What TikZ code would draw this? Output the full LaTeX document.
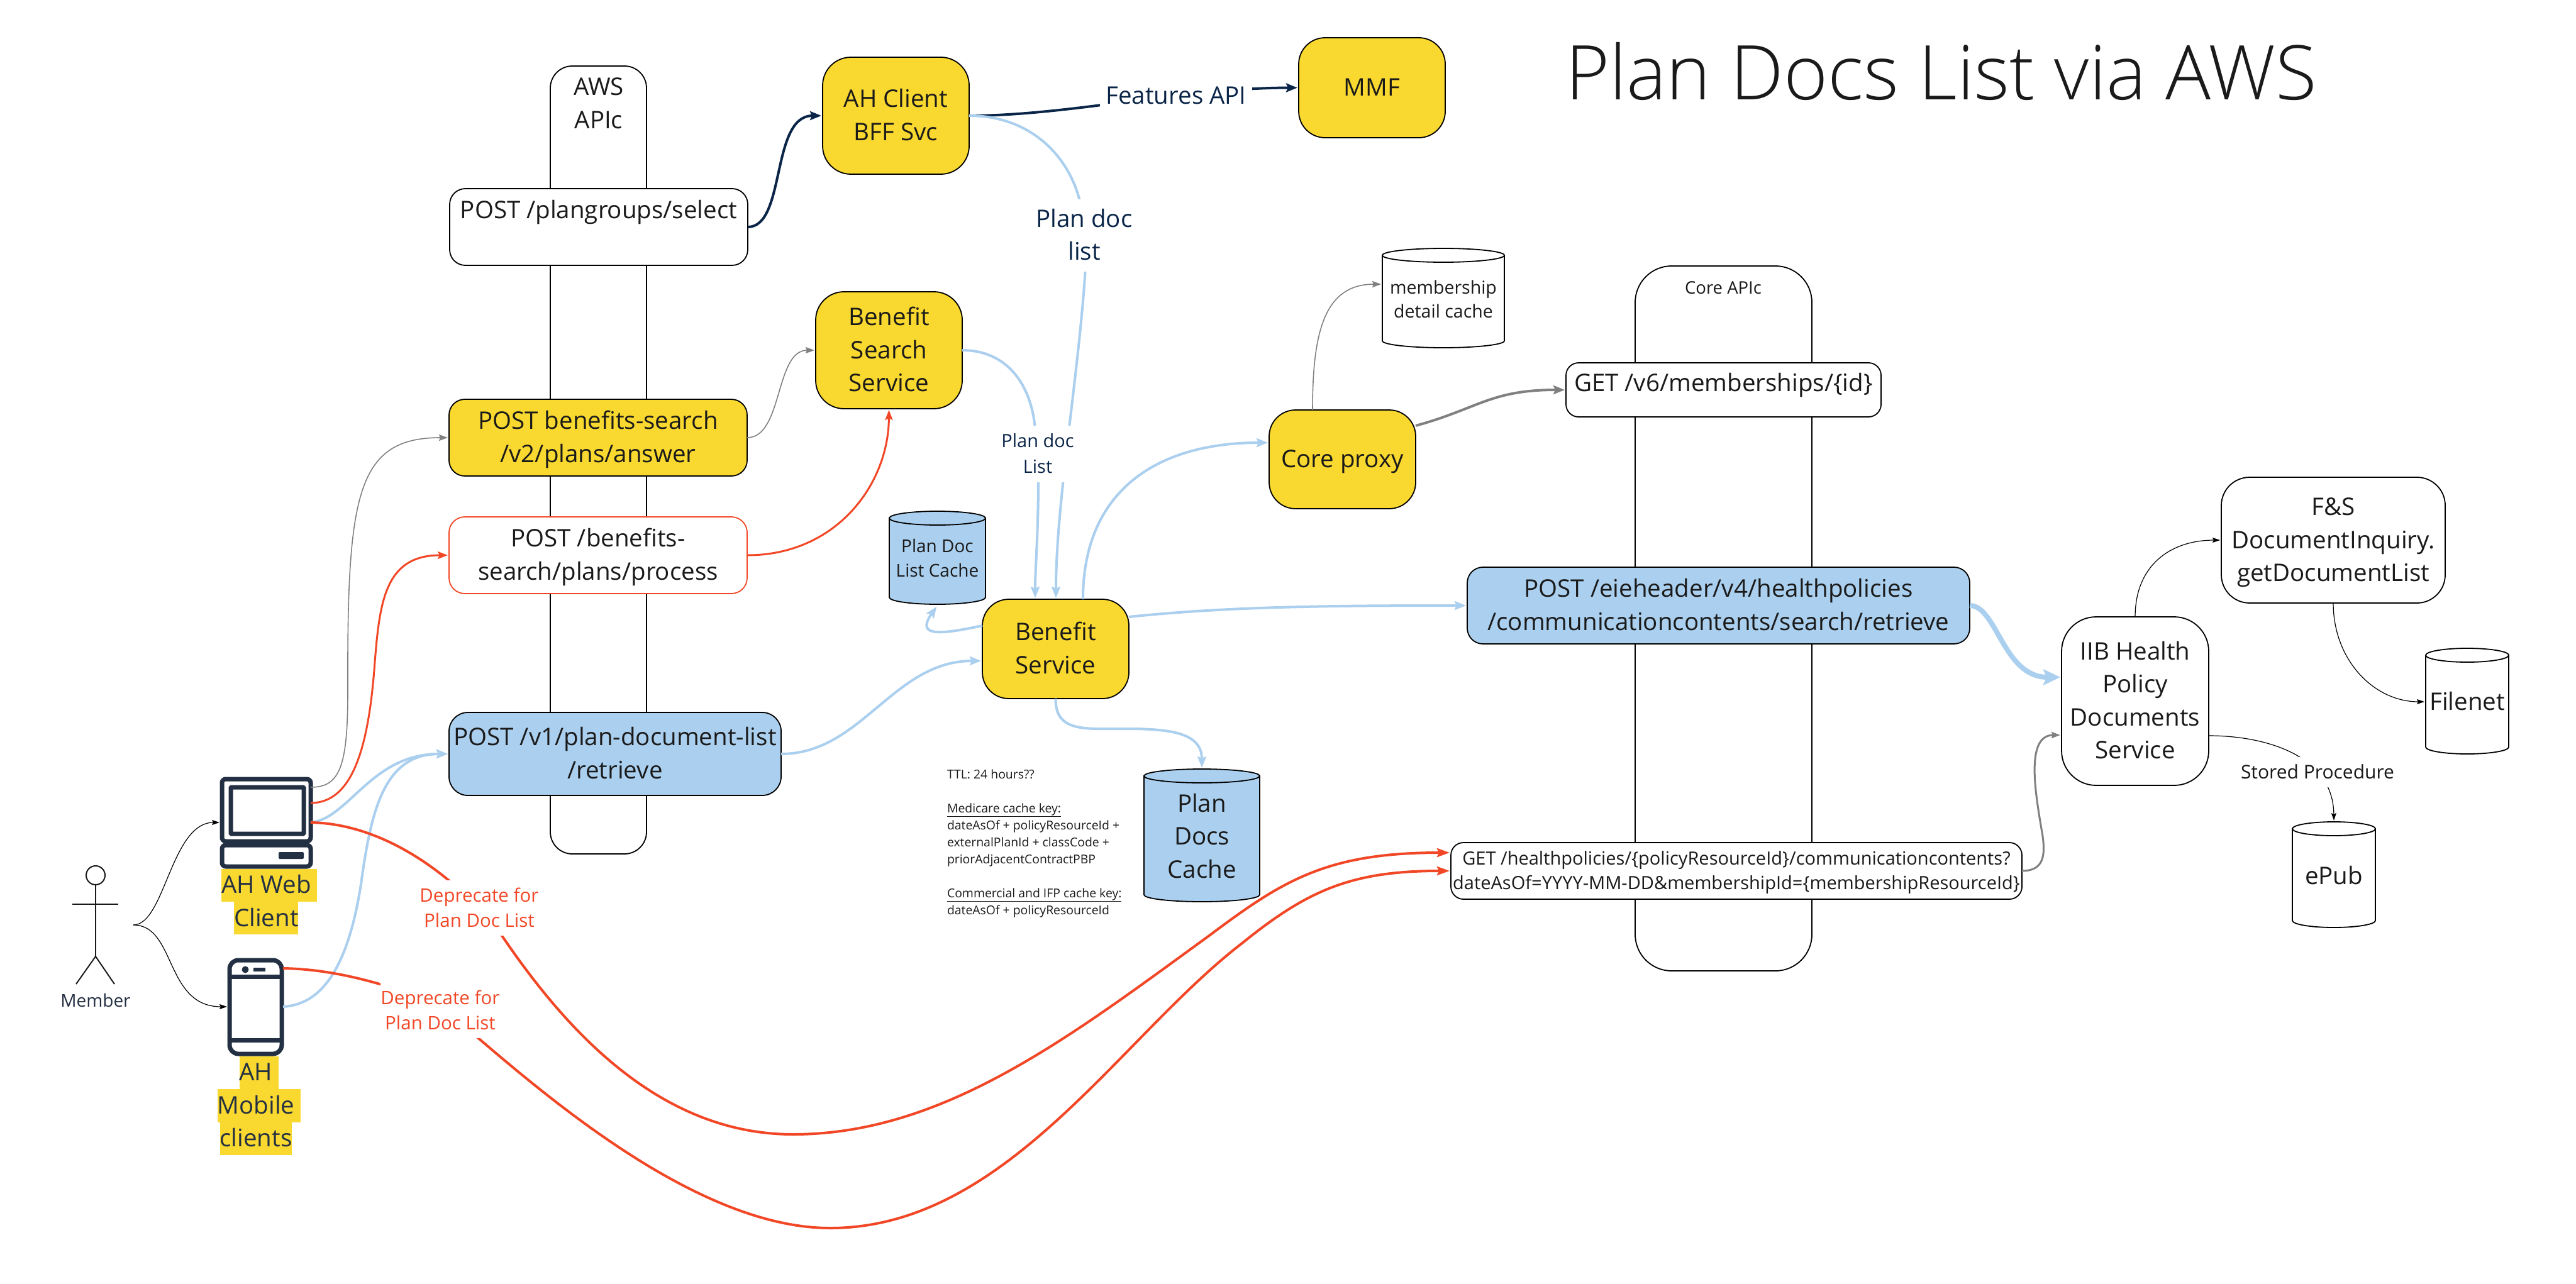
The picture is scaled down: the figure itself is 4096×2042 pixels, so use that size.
\documentclass[tikz,border=0pt]{standalone}
\usepackage{fontspec}
\setmainfont{Open Sans}
\newfontfamily\titlefont{Open Sans Light}
\usetikzlibrary{arrows.meta,calc}
\definecolor{yel}{HTML}{F9D82F}
\definecolor{blu}{HTML}{ABCFEE}
\definecolor{redc}{HTML}{F24726}
\definecolor{navy}{HTML}{0A2548}
\definecolor{icon}{HTML}{232F42}
\definecolor{ink}{HTML}{1A1A1A}
\definecolor{grayc}{HTML}{808080}
\newcommand{\fs}[2]{\fontsize{#1}{#2}\selectfont}
\newcommand{\topS}{\rule{0pt}{.85\baselineskip}}
\newcommand{\botS}{\rule[-.35\baselineskip]{0pt}{.35\baselineskip}}
\newcommand{\T}[1]{\topS #1\botS}
\newcommand{\cyl}[7]{% name, x1, y1, x2, y2, fill, text y
  \filldraw[draw=black,line width=1.8pt,fill=#6] (#2,#3+11) -- (#2,#5-11) arc[start angle=180,end angle=360,x radius={(#4-#2)/2*1pt},y radius=11pt] -- (#4,#3+11) -- cycle;
  \filldraw[draw=black,line width=1.8pt,fill=#6] ({(#2+#4)/2},#3+11) ellipse[x radius={(#4-#2)/2*1pt},y radius=11pt];
  \coordinate (#1top) at ({(#2+#4)/2},#3);
  \coordinate (#1left) at (#2,#7);
}
\tikzset{
  box/.style={rectangle,draw=black,line width=1.8pt,outer sep=0pt,inner sep=0pt,align=center,text=ink},
  big/.style={font=\fs{38.5}{52.5}},
  mid/.style={font=\fs{29.5}{40}},
  lbl/.style={inner sep=0pt,outer sep=0pt,align=center,text=ink},
  yelbox/.style={box,big,fill=yel},
  blubox/.style={box,big,fill=blu},
  whitebox/.style={box,big,fill=white},
  conn/.style={line cap=butt,shorten >=2pt},
  thinc/.style={conn,draw=black,line width=1.2pt,-{Stealth[length=12pt,width=8pt,inset=2pt]}},
  grayc1/.style={conn,draw=grayc,line width=1.6pt,-{Stealth[length=14pt,width=10pt,inset=2pt]}},
  grayc2/.style={conn,draw=grayc,line width=4pt,-{Stealth[length=18pt,width=14pt,inset=3pt]}},
  bluec/.style={conn,draw=blu,line width=4pt,-{Stealth[length=18pt,width=14pt,inset=3pt]}},
  bluethick/.style={conn,draw=blu,line width=8pt,-{Stealth[length=27pt,width=25pt,inset=5pt]}},
  redconn/.style={conn,draw=redc,line width=4pt,-{Stealth[length=20pt,width=14pt,inset=3pt]}},
  navyc/.style={conn,draw=navy,line width=4pt,-{Stealth[length=18pt,width=14pt,inset=3pt]}},
  iconl/.style={draw=icon,line width=7pt,fill=white,rounded corners=6pt},
  actorl/.style={draw=ink,line width=2pt},
}
\begin{document}
\begin{tikzpicture}[x=1pt,y=-1pt]
\useasboundingbox (0,0) rectangle (4096,2042);
\fill[white] (0,0) rectangle (4096,2042);

% columns
\node[box,fill=white,minimum width=153pt,minimum height=1253pt,rounded corners=35pt] (awscol) at (951.5,731.5) {};
\node[box,fill=white,minimum width=281pt,minimum height=1121pt,rounded corners=58pt] (corecol) at (2740.5,983.5) {};
\node[lbl,big] (awslabel) at (952,165) {\T{AWS\\APIc}};
\node[lbl,font=\fs{27.5}{38}] (corelabel) at (2740,458) {\T{Core APIc}};

% boxes
\node[whitebox,minimum width=474pt,minimum height=122pt,rounded corners=25pt] (plangroups) at (952,361) {\T{POST /plangroups/select\\\mbox{}}};
\node[yelbox,minimum width=474pt,minimum height=122pt,rounded corners=25pt] (benefits) at (951,696) {\T{POST benefits-search\\/v2/plans/answer}};
\node[whitebox,draw=redc,minimum width=474pt,minimum height=122pt,rounded corners=25pt] (process) at (951,883) {\T{POST /benefits-\\search/plans/process}};
\node[blubox,minimum width=528pt,minimum height=132pt,rounded corners=30pt] (v1) at (978,1199) {\T{POST /v1/plan-document-list\\/retrieve}};
\node[yelbox,minimum width=233pt,minimum height=186pt,rounded corners=45pt] (ahclient) at (1424.5,184) {\T{AH Client\\BFF Svc}};
\node[yelbox,minimum width=233pt,minimum height=186pt,rounded corners=45pt] (bensearch) at (1413.5,557) {\T{Benefit\\Search\\Service}};
\node[yelbox,minimum width=233pt,minimum height=158pt,rounded corners=42pt] (benefit) at (1678.5,1032) {\T{Benefit\\Service}};
\node[yelbox,minimum width=233pt,minimum height=157pt,rounded corners=42pt] (coreproxy) at (2134.5,730.5) {\T{Core proxy}};
\node[yelbox,minimum width=233pt,minimum height=159pt,rounded corners=42pt] (mmf) at (2181.5,139.5) {\T{MMF}};
\node[whitebox,minimum width=501pt,minimum height=86pt,rounded corners=20pt] (getv6) at (2740.5,620) {\T{\raisebox{11pt}{GET /v6/memberships/\{id\}}}};
\node[blubox,minimum width=799pt,minimum height=122pt,rounded corners=25pt] (eie) at (2732.5,963) {\T{POST /eieheader/v4/healthpolicies\\/communicationcontents/search/retrieve}};
\node[whitebox,font=\fs{29}{39},minimum width=908pt,minimum height=90pt,rounded corners=20pt] (getcomm) at (2761,1385) {\T{GET /healthpolicies/\{policyResourceId\}/communicationcontents?\\dateAsOf=YYYY-MM-DD\&membershipId=\{membershipResourceId\}}};
\node[whitebox,minimum width=234pt,minimum height=268pt,rounded corners=55pt] (iib) at (3395,1115) {\T{IIB Health\\Policy\\Documents\\Service}};
\node[whitebox,minimum width=356pt,minimum height=200pt,rounded corners=45pt] (fsdoc) at (3710,859) {\T{F\&S\\DocumentInquiry.\\getDocumentList}};

% cylinders
\cyl{pdlc}{1414}{813}{1567}{961}{blu}{888}
\node[lbl,font=\fs{28}{39}] (pdlctext) at (1490.5,888.5) {\T{Plan Doc\\List Cache}};
\cyl{pdc}{1819}{1223}{2003}{1434}{blu}{1330}
\node[lbl,big] (pdctext) at (1911,1330.5) {\T{Plan\\Docs\\Cache}};
\cyl{mdc}{2198}{395}{2392}{553}{white}{452}
\node[lbl,font=\fs{28.5}{38}] (mdctext) at (2295,476.5) {\T{membership\\detail cache}};
\cyl{filenet}{3857}{1031}{3989}{1199}{white}{1116}
\node[lbl,big] (filetext) at (3923,1116) {\T{Filenet}};
\cyl{epub}{3645}{1307}{3777}{1475}{white}{1393}
\node[lbl,big] (epubtext) at (3711,1393) {\T{ePub}};

% computer icon
\filldraw[iconl] (353,1239) rectangle (494,1338);
\filldraw[iconl,rounded corners=1pt] (367,1252) rectangle (483,1326);
\filldraw[iconl] (353,1344) rectangle (494,1378);
\fill[icon,rounded corners=2pt] (443,1355) rectangle (483,1366);
\coordinate (webgray) at (494,1252);
\coordinate (webred) at (494,1277);
\coordinate (webmid) at (494,1308);
\coordinate (webin) at (351,1308);
% phone icon
\filldraw[iconl,rounded corners=14pt] (365,1527) rectangle (448,1676);
\draw[draw=icon,line width=7pt] (365,1553) -- (448,1553);
\draw[draw=icon,line width=7pt] (365,1654) -- (448,1654);
\fill[icon] (390,1542) circle (5.5pt);
\fill[icon] (403,1539) rectangle (422,1545);
\coordinate (phonered) at (450,1540);
\coordinate (phoneblue) at (450,1601);
\coordinate (phonein) at (363,1601);
% icon labels
\fill[yel] (352,1382) rectangle (504,1434);
\fill[yel] (372,1434) rectangle (474,1486);
\node[lbl,big,text=icon] (weblabel) at (423.5,1434) {\T{AH Web\\Client}};
\fill[yel] (381,1680) rectangle (443,1732);
\fill[yel] (346,1732) rectangle (478,1785);
\fill[yel] (350,1785) rectangle (464,1837);
\node[lbl,big,text=icon] (phonelabel) at (407,1758) {\T{AH\\Mobile\\clients}};

% actor
\draw[actorl] (152,1392) ellipse[x radius=15pt,y radius=15pt];
\draw[actorl] (152,1407) -- (152,1521);
\draw[actorl] (115,1438) -- (188,1438);
\draw[actorl] (121,1565) -- (152,1521) -- (182,1565);
\node[lbl,font=\fs{28}{38},text=icon] (member) at (152,1592) {\T{Member}};
\coordinate (memberout) at (212,1471);

% notes
\node[lbl,font=\fs{19.4}{27},align=left,anchor=west] (notes) at (1506,1341.5) {TTL: 24 hours??\\\mbox{}\\\underline{Medicare cache key:}\\dateAsOf + policyResourceId +\\externalPlanId + classCode +\\priorAdjacentContractPBP\\\mbox{}\\\underline{Commercial and IFP cache key:}\\dateAsOf + policyResourceId};

% title
\node[inner sep=0pt,outer sep=0pt,anchor=base west,font=\titlefont\fs{120}{140},text=ink] (title) at (2489,158) {Plan Docs List via AWS};

% connector anchor coordinates
\coordinate (benfromtopa) at (1646,953);
\coordinate (benfromtopb) at (1679,953);
\coordinate (bentop) at (1722,953);
\coordinate (benleftout) at (1562,995);
\coordinate (benleftin) at (1562,1051);
\coordinate (benrightout) at (1795,981);
\coordinate (coreleft) at (2018,704);
\coordinate (coretop) at (2087,652);
\coordinate (coreright) at (2251,677);
\coordinate (iibinA) at (3278,1077);
\coordinate (iibinB) at (3278,1169);
\coordinate (iibout) at (3512,1170);
\coordinate (gettopin) at (2307,1356);
\coordinate (getlowin) at (2307,1385);
\coordinate (eieout) at (3132,963);

% connectors
\draw[thinc] (memberout) .. controls (262,1471) and (272,1308) .. (webin);
\draw[thinc] (memberout) .. controls (280,1471) and (262,1601) .. (phonein);

\draw[grayc1] (webgray) .. controls (540,1252) and (553,1220) .. (553,1100) .. controls (552,790) and (565,696) .. (benefits.west);
\draw[redconn,line width=3pt,-{Stealth[length=16pt,width=12pt,inset=3pt]}] (webred) .. controls (560,1277) and (585,1190) .. (595,1066) .. controls (603,960) and (610,883) .. (process.west);
\draw[bluec] (webmid) .. controls (555,1302) and (590,1199) .. (v1.west);
\draw[bluec] (phoneblue) .. controls (500,1598) and (550,1560) .. (574,1406) .. controls (590,1290) and (610,1199) .. (v1.west);

\draw[navyc] (plangroups.east) .. controls (1250,361) and (1225,184) .. (ahclient.west);
\draw[grayc1] (benefits.east) .. controls (1245,696) and (1232,557) .. (bensearch.west);
\draw[redconn,line width=3pt,-{Stealth[length=16pt,width=12pt,inset=3pt]}] (process.east) .. controls (1330,883) and (1413,770) .. (bensearch.south);

\draw[navyc] (ahclient.east) .. controls (1700,184) and (1880,140) .. (mmf.west);
\node[lbl,big,text=navy,fill=white,inner xsep=9pt] (featlabel) at (1870,152) {\T{Features API}};

\draw[bluec] (ahclient.east) .. controls (1640,184) and (1700,250) .. (1717,320) .. controls (1733,390) and (1728,400) .. (1726,425) .. controls (1716,590) and (1679,800) .. (benfromtopb);
\node[lbl,big,text=navy,fill=white] (plandoc1) at (1724,374.5) {\T{Plan doc\\list}};

\draw[bluec] (bensearch.east) .. controls (1600,557) and (1640,610) .. (1646,683) .. controls (1650,720) and (1651,740) .. (1651,762) .. controls (1651,850) and (1646,900) .. (benfromtopa);
\node[lbl,font=\fs{29}{41},text=navy,fill=white] (plandoc2) at (1650,722) {\T{Plan doc\\List}};

\draw[bluec] (bentop) .. controls (1722,780) and (1840,704) .. (coreleft);
\draw[bluec] (benleftout) .. controls (1500,1008) and (1454,1015) .. (pdlctop |- 0,963);
\draw[bluec] (v1.east) .. controls (1370,1199) and (1420,1051) .. (benleftin);
\draw[bluec] (benrightout) .. controls (1950,965) and (2100,963) .. (eie.west);
\draw[bluec] (benefit.south) .. controls (1678,1165) and (1725,1159) .. (1790,1159) .. controls (1860,1159) and (1911,1165) .. (pdctop);

\draw[grayc1] (coretop) .. controls (2087,530) and (2105,452) .. (mdcleft);
\draw[grayc2] (coreright) .. controls (2350,650) and (2370,620) .. (getv6.west);

\draw[bluethick] (eieout) .. controls (3175,963) and (3185,1077) .. (iibinA);
\draw[grayc1,line width=3pt] (getcomm.east) .. controls (3250,1385) and (3252,1360) .. (3248,1330) .. controls (3238,1270) and (3218,1169) .. (iibinB);
\draw[thinc] (iib.north) .. controls (3395,900) and (3450,859) .. (fsdoc.west);
\draw[thinc] (fsdoc.south) .. controls (3710,1050) and (3775,1116) .. (filenetleft);
\draw[thinc] (iibout) .. controls (3600,1170) and (3710,1200) .. (epubtop);
\node[lbl,font=\fs{30}{40},fill=white] (stored) at (3685,1228) {\T{Stored Procedure}};

\draw[redconn] (webmid) .. controls (610,1310) and (720,1390) .. (794,1482) .. controls (900,1640) and (1050,1804) .. (1261,1804) .. controls (1500,1804) and (1700,1650) .. (1924,1487) .. controls (2040,1400) and (2110,1356) .. (gettopin);
\node[lbl,mid,text=redc,fill=white] (dep1) at (762,1444) {\T{Deprecate for\\Plan Doc List}};
\draw[redconn] (phonered) .. controls (530,1541) and (620,1565) .. (700,1600) .. controls (800,1680) and (1080,1953) .. (1320,1953) .. controls (1600,1953) and (1780,1650) .. (1975,1500) .. controls (2080,1415) and (2150,1385) .. (getlowin);
\node[lbl,mid,text=redc,fill=white] (dep2) at (700,1607) {\T{Deprecate for\\Plan Doc List}};
\end{tikzpicture}
\end{document}
